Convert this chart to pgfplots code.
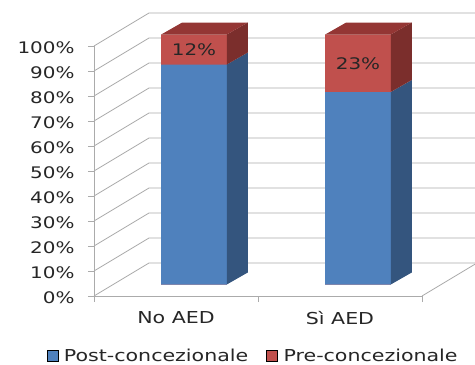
\documentclass[border=0pt]{standalone}
\usepackage{pgfplots}
\usepackage{pgfplotstable}
\pgfplotsset{compat=1.18}
\usepackage{fontspec}
\setmainfont{DejaVu Sans}[FakeStretch=1.25]
\definecolor{bfront}{HTML}{4F81BD}
\definecolor{bside}{HTML}{34557E}
\definecolor{rfront}{HTML}{C0504D}
\definecolor{rside}{HTML}{7B2E2C}
\definecolor{rtop}{HTML}{943634}
\definecolor{gridc}{HTML}{ABABAB}
\definecolor{txt}{HTML}{262626}
\newcommand\fs[1]{\fontsize{#1}{#1}\selectfont}

\pgfplotstableread{
x post pre
0 88 12
1 77 23
}\data

\begin{document}
\begin{tikzpicture}
\useasboundingbox (0bp,0bp) rectangle (475bp,-365bp);
% walls, floor and axes (front plane)
\begin{axis}[
  at={(94bp,-296bp)}, anchor=south west,
  scale only axis, width=328bp, height=250bp,
  xmin=-0.5, xmax=1.5, ymin=0, ymax=100, clip=false,
  axis lines*=left,
  axis line style={draw=gridc, line width=0.8bp},
  every tick/.style={draw=gridc, line width=0.8bp},
  tick align=outside, major tick length=6bp,
  ytick={0,10,...,100},
  /pgf/number format/assume math mode=true,
  yticklabel={\pgfmathprintnumber{\tick}\%},
  yticklabel style={font=\fs{16}, text=txt, xshift=-10bp, yshift=-1.5bp},
  xtick={-0.5,0.5,1.5}, xticklabels={},
  extra x ticks={0,1}, extra x tick labels={No AED,Sì AED},
  extra x tick style={major tick length=0pt,
     xticklabel style={font=\fs{16.5}, text=txt, yshift=-12bp}},
]
\pgfplotsinvokeforeach{0,10,...,100}{
  \draw[gridc, line width=0.8bp] (axis cs:-0.5,#1) -- ([shift={(55bp,33bp)}]axis cs:-0.5,#1) -- ([shift={(55bp,33bp)}]axis cs:1.5,#1);
}
\draw[gridc, line width=0.8bp] (axis cs:1.5,0) -- ([shift={(55bp,33bp)}]axis cs:1.5,0);
\end{axis}
% bars (bar plane)
\begin{axis}[
  at={(112bp,-284.5bp)}, anchor=south west,
  scale only axis, width=328bp, height=250bp,
  xmin=-0.5, xmax=1.5, ymin=0, ymax=100, clip=false,
  axis lines=none,
  legend image code/.code={\fill[#1] (0bp,-5.5bp) rectangle (11bp,5.5bp);},
  legend style={at={(0.43,-0.286)}, anchor=center, draw=none, fill=none,
    font=\fs{16.5}, text=txt, legend columns=2,
    /tikz/every odd column/.append style={column sep=4bp},
    /tikz/every even column/.append style={column sep=16bp}},
]
\addplot[ybar, bar width=0.4, bar shift=0pt, fill=rfront, draw=none, forget plot]
  table[x=x, y expr=\thisrow{post}+\thisrow{pre}] {\data};
\addplot[ybar, bar width=0.4, bar shift=0pt, fill=bfront, draw=none, forget plot]
  table[x=x, y=post] {\data};
% side and top faces, No AED
\addplot[fill=bside, draw=none, forget plot] coordinates {(0.2,0) (0.2,88) (0.328,92.8) (0.328,4.8)};
\addplot[fill=rside, draw=none, forget plot] coordinates {(0.2,88) (0.2,100) (0.328,104.8) (0.328,92.8)};
\addplot[fill=rtop, draw=none, forget plot] coordinates {(-0.2,100) (0.2,100) (0.328,104.8) (-0.072,104.8)};
% side and top faces, Si AED
\addplot[fill=bside, draw=none, forget plot] coordinates {(1.2,0) (1.2,77) (1.328,81.8) (1.328,4.8)};
\addplot[fill=rside, draw=none, forget plot] coordinates {(1.2,77) (1.2,100) (1.328,104.8) (1.328,81.8)};
\addplot[fill=rtop, draw=none, forget plot] coordinates {(0.8,100) (1.2,100) (1.328,104.8) (0.928,104.8)};
% data labels
\addplot[draw=none, mark=none, forget plot, point meta=explicit symbolic,
  nodes near coords={\pgfplotspointmeta\%},
  nodes near coords style={anchor=center, font=\fs{16}, text=txt}]
  table[x=x, y expr=\thisrow{post}+\thisrow{pre}/2, meta=pre] {\data};
\addlegendimage{fill=bfront}
\addlegendentry{Post-concezionale}
\addlegendimage{fill=rfront}
\addlegendentry{Pre-concezionale}
\end{axis}
\end{tikzpicture}
\end{document}
